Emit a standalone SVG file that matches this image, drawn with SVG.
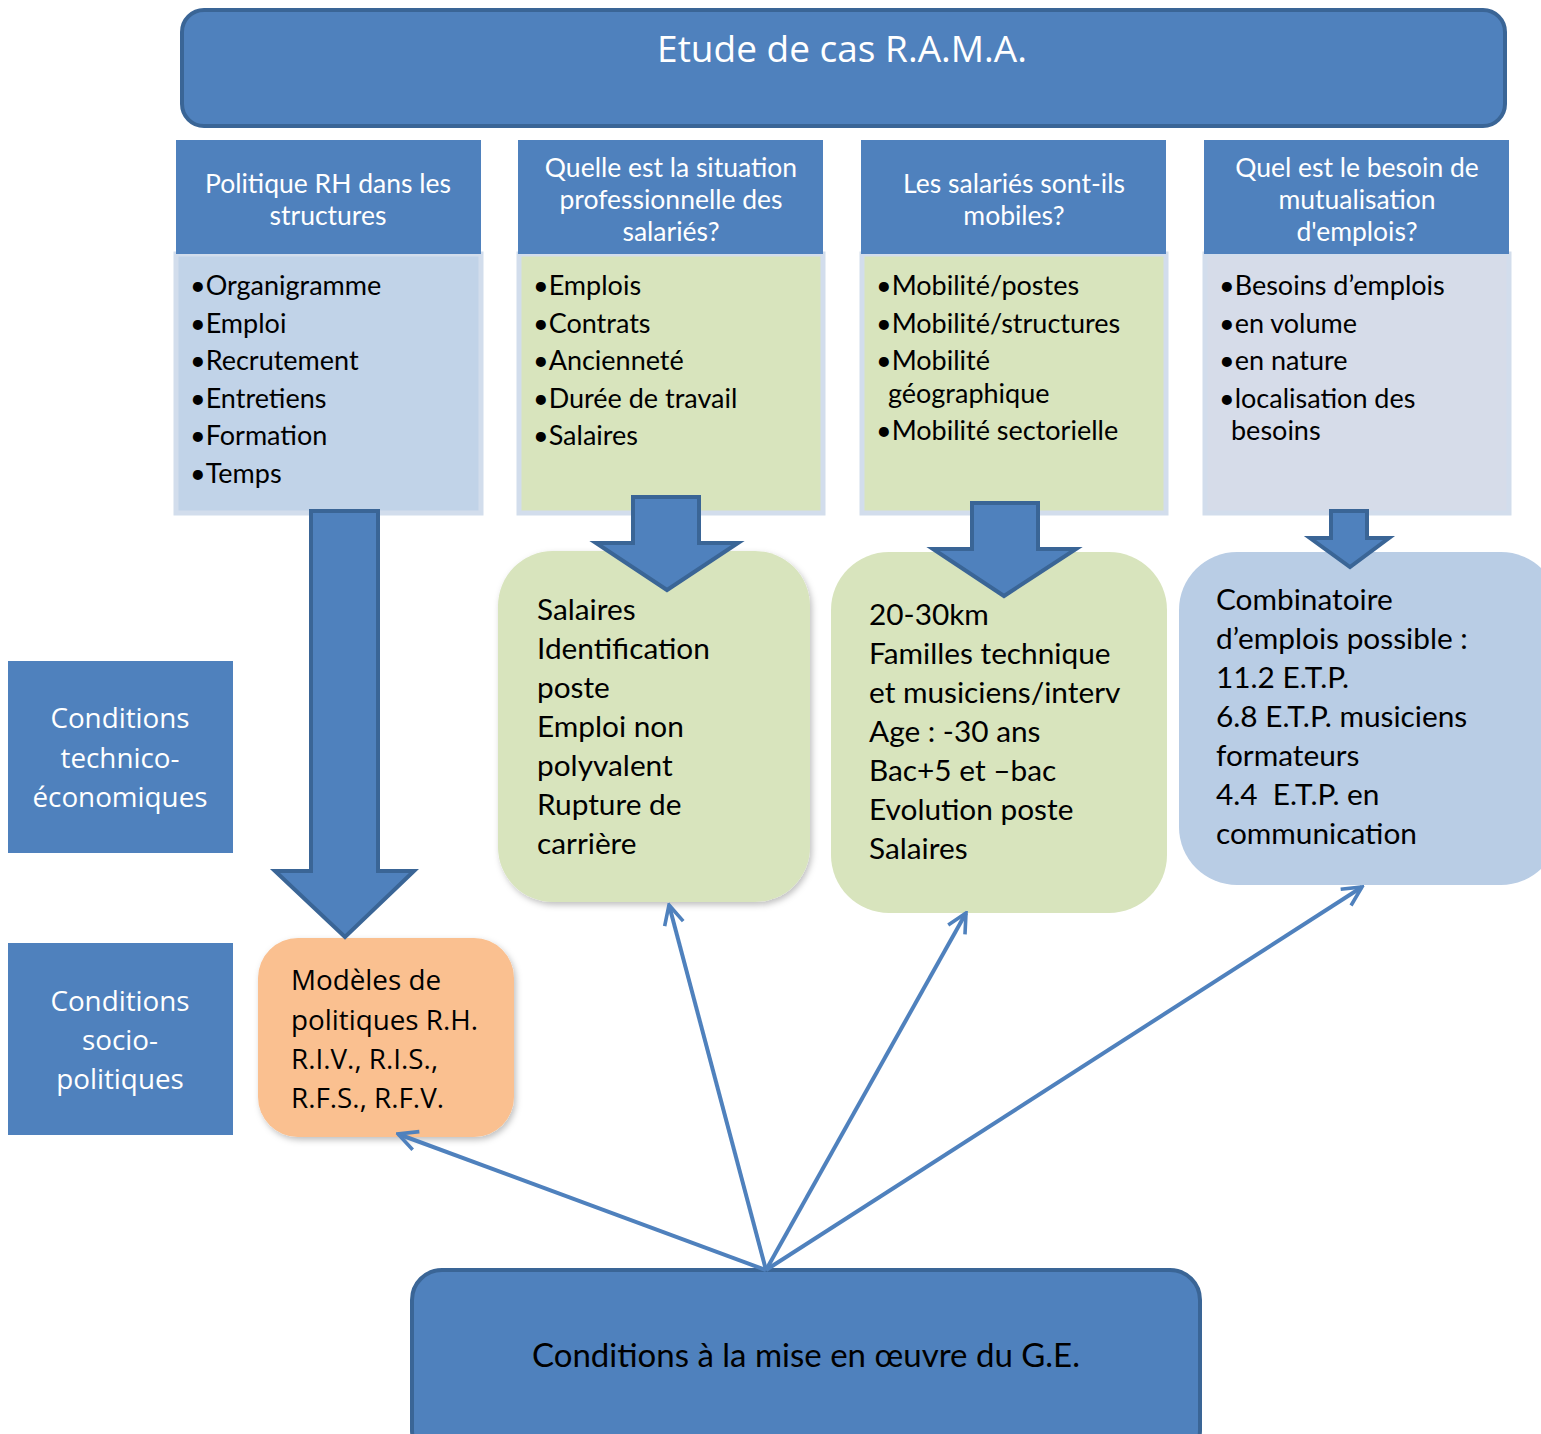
<svg xmlns="http://www.w3.org/2000/svg" width="1541" height="1434" viewBox="0 0 1541 1434">
<style>
.hdr{fill:#4F81BD}
.ht{font-family:Lato,"Liberation Sans",sans-serif;font-size:26.5px;fill:#fff;text-anchor:middle}
.bt{font-family:Lato,"Liberation Sans",sans-serif;font-size:27px;fill:#000}
.rt{font-family:Lato,"Liberation Sans",sans-serif;font-size:29.8px;fill:#000}
.ot{font-family:"Open Sans","Liberation Sans",sans-serif;font-size:27.8px;fill:#000}
.lt{font-family:"Open Sans","Liberation Sans",sans-serif;font-size:27.8px;fill:#fff;text-anchor:middle}
.blk{fill:#4F81BD;stroke:#3A6596;stroke-width:4;stroke-linejoin:miter}
.con{stroke:#4F81BD;stroke-width:4;fill:none}
</style>
<defs>
<filter id="sh" x="-10%" y="-10%" width="120%" height="120%">
<feDropShadow dx="2" dy="3" stdDeviation="3" flood-color="#000" flood-opacity="0.25"/>
</filter>
<marker id="ah" viewBox="0 0 20 20" refX="18" refY="10" markerWidth="6" markerHeight="6" markerUnits="strokeWidth" orient="auto">
<path d="M2,2 L18,10 L2,18" fill="none" stroke="#4F81BD" stroke-width="3"/>
</marker>
</defs>

<g id="title">
<rect x="182" y="10" width="1323" height="116" rx="22" fill="#4F81BD" stroke="#3A6596" stroke-width="4"/>
<text x="842" y="62" font-family="'Open Sans','Liberation Sans',sans-serif" font-size="37" fill="#fff" text-anchor="middle">Etude de cas R.A.M.A.</text>
</g>

<g id="col1">
<rect x="176" y="254" width="305" height="259" fill="#C1D3E8" stroke="#D2DDEC" stroke-width="5"/>
<rect class="hdr" x="176" y="140" width="305" height="114"/>
<text class="ht" x="328" y="193">Politique RH dans les</text>
<text class="ht" x="328" y="225">structures</text>
<text class="bt" x="190" y="295">•Organigramme</text>
<text class="bt" x="190" y="333">•Emploi</text>
<text class="bt" x="190" y="370">•Recrutement</text>
<text class="bt" x="190" y="408">•Entretiens</text>
<text class="bt" x="190" y="445">•Formation</text>
<text class="bt" x="190" y="483">•Temps</text>
</g>

<g id="col2">
<rect x="519" y="254" width="304" height="259" fill="#D8E4BD" stroke="#D2DDEC" stroke-width="5"/>
<rect class="hdr" x="518" y="140" width="305" height="114"/>
<text class="ht" x="671" y="177">Quelle est la situation</text>
<text class="ht" x="671" y="209">professionnelle des</text>
<text class="ht" x="671" y="241">salariés?</text>
<text class="bt" x="533" y="295">•Emplois</text>
<text class="bt" x="533" y="333">•Contrats</text>
<text class="bt" x="533" y="370">•Ancienneté</text>
<text class="bt" x="533" y="408">•Durée de travail</text>
<text class="bt" x="533" y="445">•Salaires</text>
</g>

<g id="col3">
<rect x="862" y="254" width="304" height="259" fill="#D8E4BD" stroke="#D2DDEC" stroke-width="5"/>
<rect class="hdr" x="861" y="140" width="305" height="114"/>
<text class="ht" x="1014" y="193">Les salariés sont-ils</text>
<text class="ht" x="1014" y="225">mobiles?</text>
<text class="bt" x="876" y="295">•Mobilité/postes</text>
<text class="bt" x="876" y="333">•Mobilité/structures</text>
<text class="bt" x="876" y="370">•Mobilité</text>
<text class="bt" x="888" y="403">géographique</text>
<text class="bt" x="876" y="440">•Mobilité sectorielle</text>
</g>

<g id="col4">
<rect x="1205" y="254" width="304" height="259" fill="#D6DCE9" stroke="#D2DDEC" stroke-width="5"/>
<rect class="hdr" x="1204" y="140" width="305" height="114"/>
<text class="ht" x="1357" y="177">Quel est le besoin de</text>
<text class="ht" x="1357" y="209">mutualisation</text>
<text class="ht" x="1357" y="241">d'emplois?</text>
<text class="bt" x="1219" y="295">•Besoins d’emplois</text>
<text class="bt" x="1219" y="333">•en volume</text>
<text class="bt" x="1219" y="370">•en nature</text>
<text class="bt" x="1219" y="408">•localisation des</text>
<text class="bt" x="1231" y="440">besoins</text>
</g>

<g id="left1">
<rect x="8" y="661" width="225" height="192" fill="#4F81BD"/>
<text class="lt" x="120" y="728">Conditions</text>
<text class="lt" x="120" y="768">technico-</text>
<text class="lt" x="120" y="807">économiques</text>
</g>

<g id="left2">
<rect x="8" y="943" width="225" height="192" fill="#4F81BD"/>
<text class="lt" x="120" y="1011">Conditions</text>
<text class="lt" x="120" y="1050">socio-</text>
<text class="lt" x="120" y="1089">politiques</text>
</g>

<g id="green1">
<rect x="498" y="551" width="312" height="351" rx="55" fill="#D8E4BD" filter="url(#sh)"/>
<text class="rt" x="537" y="620">Salaires</text>
<text class="rt" x="537" y="659">Identification</text>
<text class="rt" x="537" y="698">poste</text>
<text class="rt" x="537" y="737">Emploi non</text>
<text class="rt" x="537" y="776">polyvalent</text>
<text class="rt" x="537" y="815">Rupture de</text>
<text class="rt" x="537" y="854">carrière</text>
</g>

<g id="green2">
<rect x="831" y="552" width="336" height="361" rx="58" fill="#D8E4BD"/>
<text class="rt" x="869" y="625">20-30km</text>
<text class="rt" x="869" y="664">Familles technique</text>
<text class="rt" x="869" y="703">et musiciens/interv</text>
<text class="rt" x="869" y="742">Age : -30 ans</text>
<text class="rt" x="869" y="781">Bac+5 et –bac</text>
<text class="rt" x="869" y="820">Evolution poste</text>
<text class="rt" x="869" y="859">Salaires</text>
</g>

<g id="blue">
<rect x="1179" y="552" width="380" height="333" rx="58" fill="#B9CDE5"/>
<text class="rt" x="1216" y="610">Combinatoire</text>
<text class="rt" x="1216" y="649">d’emplois possible :</text>
<text class="rt" x="1216" y="688">11.2 E.T.P.</text>
<text class="rt" x="1216" y="727">6.8 E.T.P. musiciens</text>
<text class="rt" x="1216" y="766">formateurs</text>
<text class="rt" x="1216" y="805" xml:space="preserve">4.4  E.T.P. en</text>
<text class="rt" x="1216" y="844">communication</text>
</g>

<g id="orange">
<rect x="258" y="938" width="256" height="199" rx="40" fill="#FAC090" filter="url(#sh)"/>
<text class="ot" x="291" y="990">Modèles de</text>
<text class="ot" x="291" y="1030">politiques R.H.</text>
<text class="ot" x="291" y="1069">R.I.V., R.I.S.,</text>
<text class="ot" x="291" y="1108">R.F.S., R.F.V.</text>
</g>

<g id="bottom">
<rect x="412" y="1270" width="788" height="190" rx="30" fill="#4F81BD" stroke="#3A6596" stroke-width="4"/>
<text x="806" y="1367" font-family="Lato,'Liberation Sans',sans-serif" font-size="33" fill="#000" text-anchor="middle">Conditions à la mise en œuvre du G.E.</text>
</g>

<g id="block-arrows">
<path class="blk" d="M311,511 L378,511 L378,871 L414,871 L345,937 L275,871 L311,871 Z"/>
<path class="blk" d="M633,497 L699,497 L699,543 L738,543 L667,590 L596,543 L633,543 Z"/>
<path class="blk" d="M972,503 L1038,503 L1038,549 L1076,549 L1004,596 L933,549 L972,549 Z"/>
<path class="blk" d="M1331,511 L1367,511 L1367,538 L1389,538 L1350,567 L1310,538 L1331,538 Z"/>
</g>

<g id="connectors">
<line class="con" x1="766" y1="1270" x2="398" y2="1134" marker-end="url(#ah)"/>
<line class="con" x1="766" y1="1270" x2="669" y2="905" marker-end="url(#ah)"/>
<line class="con" x1="766" y1="1270" x2="966" y2="913" marker-end="url(#ah)"/>
<line class="con" x1="766" y1="1270" x2="1362" y2="887" marker-end="url(#ah)"/>
</g>
</svg>
